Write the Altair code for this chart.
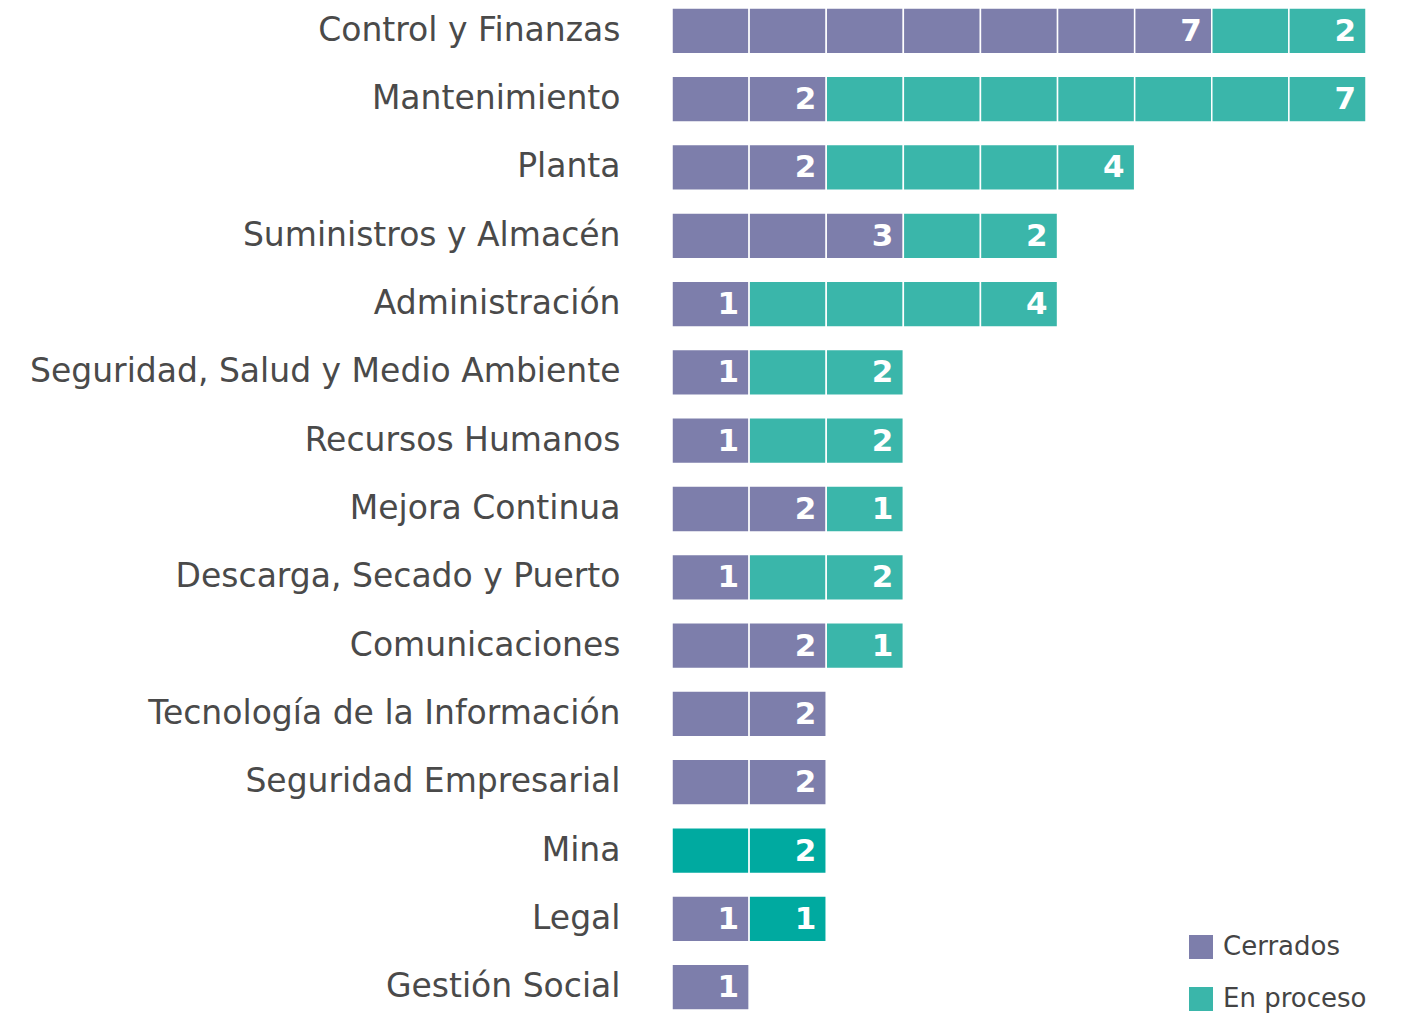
import altair as alt
import pandas as pd

categorias = [
    "Control y Finanzas", "Mantenimiento", "Planta", "Suministros y Almacén",
    "Administración", "Seguridad, Salud y Medio Ambiente", "Recursos Humanos",
    "Mejora Continua", "Descarga, Secado y Puerto", "Comunicaciones",
    "Tecnología de la Información", "Seguridad Empresarial", "Mina", "Legal",
    "Gestión Social",
]
cerrados = [7, 2, 2, 3, 1, 1, 1, 2, 1, 2, 2, 2, 0, 1, 1]
en_proceso = [2, 7, 4, 2, 4, 2, 2, 1, 2, 1, 0, 0, 2, 1, 0]
tono_oscuro = ["Mina", "Legal"]  # categories whose "En proceso" cells are darker teal

cells = []
labels = []
for cat, c, e in zip(categorias, cerrados, en_proceso):
    grp_e = "En proceso (oscuro)" if cat in tono_oscuro else "En proceso"
    for i in range(c):
        cells.append({"cat": cat, "x0": i, "x1": i + 1, "estado": "Cerrados"})
    for i in range(e):
        cells.append({"cat": cat, "x0": c + i, "x1": c + i + 1, "estado": grp_e})
    if c > 0:
        labels.append({"cat": cat, "pos": c, "valor": str(c)})
    if e > 0:
        labels.append({"cat": cat, "pos": c + e, "valor": str(e)})

df_cells = pd.DataFrame(cells)
df_labels = pd.DataFrame(labels)

FONT = "DejaVu Sans"

y_enc = alt.Y(
    "cat:N", sort=categorias, title=None,
    scale=alt.Scale(paddingInner=0.33, paddingOuter=0, align=0),
    axis=alt.Axis(domain=False, ticks=False, labelFontSize=33, labelColor="#4a4a4a",
                  labelFont=FONT, labelPadding=52, labelLimit=700),
)
x_scale = alt.Scale(domain=[0, 9], nice=False, zero=True)

bars = alt.Chart(df_cells).mark_rect(stroke="white", strokeWidth=1.5).encode(
    x=alt.X("x0:Q", scale=x_scale, axis=None),
    x2="x1:Q",
    y=y_enc,
    color=alt.Color(
        "estado:N",
        scale=alt.Scale(domain=["Cerrados", "En proceso", "En proceso (oscuro)"],
                        range=["#7d7eab", "#3ab6aa", "#00aaa0"]),
        legend=alt.Legend(
            title=None, values=["Cerrados", "En proceso"], orient="none",
            legendX=516, legendY=926, symbolType="square", symbolSize=576,
            symbolStrokeWidth=0, labelFontSize=26, labelFont=FONT,
            labelColor="#444444", rowPadding=26, labelOffset=9,
        ),
    ),
)

text = alt.Chart(df_labels).mark_text(
    align="right", baseline="middle", dx=-10, dy=1, fontSize=31,
    fontWeight="bold", color="white", font=FONT,
).encode(
    x=alt.X("pos:Q", scale=x_scale),
    y=alt.Y("cat:N", sort=categorias),
    text="valor:N",
)

chart = (bars + text).properties(
    width=694, height=1002,
    autosize=alt.AutoSizeParams(type="none"),
    padding={"left": 664, "top": 0, "right": 0, "bottom": 6},
).configure_view(stroke=None)

chart.save("out.html", embed_options={"renderer": "svg", "actions": False})
